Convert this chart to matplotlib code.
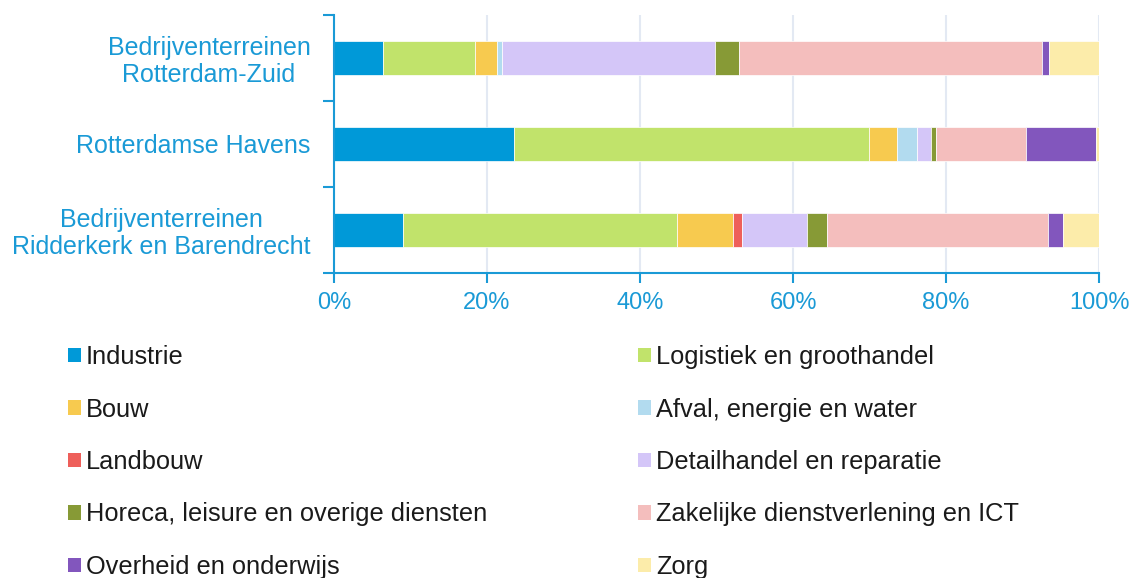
import matplotlib.pyplot as plt
import numpy as np
from matplotlib.patches import Patch
from matplotlib.ticker import FixedLocator, PercentFormatter

plt.rcParams['font.family'] = ['Liberation Sans', 'DejaVu Sans']

areas = ['Bedrijventerreinen\nRotterdam-Zuid', 'Rotterdamse Havens',
         'Bedrijventerreinen\nRidderkerk en Barendrecht']
sectors = ['Industrie', 'Logistiek en groothandel', 'Bouw', 'Afval, energie en water',
           'Landbouw', 'Detailhandel en reparatie', 'Horeca, leisure en overige diensten',
           'Zakelijke dienstverlening en ICT', 'Overheid en onderwijs', 'Zorg']
colors = ['#0099d8', '#c1e36b', '#f7ca4f', '#b2dbef', '#ee5f5a',
          '#d4c6f8', '#879a36', '#f4bebd', '#8256bd', '#fcecaa']

# share per sector (%), one value per area
industrie    = [6.4, 23.5, 9.0]
logistiek    = [12.0, 46.4, 35.8]
bouw         = [2.9, 3.7, 7.4]
afval        = [0.7, 2.6, 0.0]
landbouw     = [0.0, 0.0, 1.1]
detailhandel = [27.8, 1.8, 8.5]
horeca       = [3.2, 0.7, 2.7]
zakelijk     = [39.6, 11.7, 28.8]
overheid     = [0.9, 9.2, 2.0]
zorg         = [6.5, 0.4, 4.7]
values = [industrie, logistiek, bouw, afval, landbouw, detailhandel, horeca, zakelijk, overheid, zorg]

blue = '#1a9ad6'
fig = plt.figure(figsize=(11.3, 5.78), dpi=100)
ax = fig.add_axes([0.2956, 0.528, 0.677, 0.446])

y = np.arange(len(areas))
left = np.zeros(len(areas))
for name, vals, c in zip(sectors, values, colors):
    vals = np.array(vals)
    ax.barh(y, vals, left=left, height=0.4, color=c, edgecolor='white', linewidth=0.5, label=name)
    left += vals

ax.set_xlim(0, 100)
ax.set_ylim(2.5, -0.5)
ax.set_xticks(np.arange(0, 101, 20))
ax.xaxis.set_major_formatter(PercentFormatter(decimals=0))
ax.set_yticks(y)
ax.set_yticklabels(areas, multialignment='center', linespacing=1.15)
ax.yaxis.set_minor_locator(FixedLocator([-0.5, 0.5, 1.5, 2.5]))
ax.tick_params(axis='y', which='major', length=0, pad=17, labelsize=18, labelcolor=blue)
ax.tick_params(axis='y', which='minor', length=8, width=1.5, color=blue)
ax.tick_params(axis='x', length=7, width=1.5, color=blue, labelsize=17, labelcolor=blue, pad=7)

ax.grid(axis='x', color='#e3e9f3', linewidth=1.5)
ax.set_axisbelow(True)
for s in ['top', 'right']:
    ax.spines[s].set_visible(False)
for s in ['left', 'bottom']:
    ax.spines[s].set_color(blue)
    ax.spines[s].set_linewidth(1.5)

handles = [Patch(facecolor=c, label=n) for n, c in zip(sectors, colors)]
order = [0, 2, 4, 6, 8, 1, 3, 5, 7, 9]
fig.legend([handles[i] for i in order], [sectors[i] for i in order], ncol=2,
           loc='upper left', bbox_to_anchor=(0.060, 0.403), frameon=False, fontsize=18.3,
           handlelength=0.5, handleheight=0.5, handletextpad=0.2, labelspacing=1.12,
           columnspacing=5.95, labelcolor='#1a1a1a', borderaxespad=0, borderpad=0)

fig.savefig('out.png', dpi=100)
